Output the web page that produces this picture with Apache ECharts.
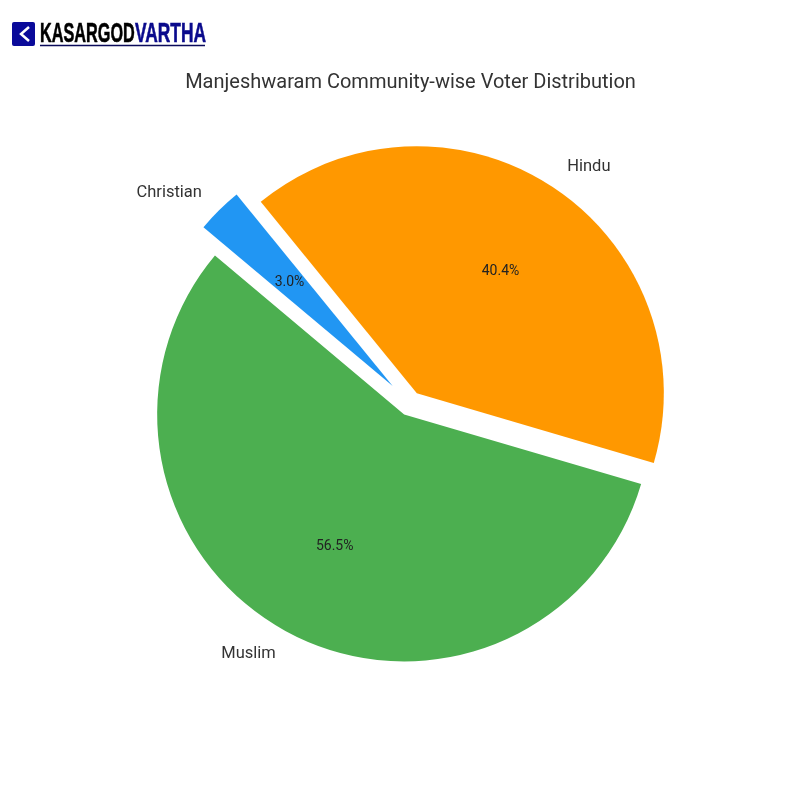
<!DOCTYPE html>
<html>
<head>
<meta charset="utf-8">
<style>html,body{margin:0;padding:0;background:#fff}#main{width:800px;height:800px}</style>
<script src="https://cdn.jsdelivr.net/npm/echarts@6/dist/echarts.min.js"></script>
</head>
<body>
<div id="main"></div>
<script>
var myChart = echarts.init(document.getElementById('main'));

var communities = ['Muslim', 'Hindu', 'Christian'];
var shares = [56.5, 40.4, 3.0];
var colors = ['#4CAF50', '#FF9800', '#2196F3'];
var titleText = 'Manjeshwaram Community-wise Voter Distribution';

var pieCenter = [410, 403.5];
var pieRadius = 247;
var fontName = 'Roboto';

// each pie only paints some slices, the rest stay transparent to keep the angles
function slices(shown, painted) {
  return communities.map(function (name, i) {
    var on = shown.indexOf(name) >= 0;
    return {
      name: name,
      value: shares[i],
      selected: true,
      itemStyle: { color: on && painted ? colors[i] : 'transparent' },
      label: { show: on }
    };
  });
}

function slicePie(shown, offset) {
  return {
    type: 'pie',
    center: pieCenter,
    radius: [0, pieRadius],
    startAngle: 140,
    clockwise: false,
    selectedMode: 'multiple',
    selectedOffset: offset,
    avoidLabelOverlap: false,
    animation: false,
    silent: true,
    emphasis: { disabled: true },
    label: {
      position: 'outside',
      formatter: '{b}',
      color: '#333',
      fontFamily: fontName,
      fontSize: 16.5,
      distanceToLabelLine: 0
    },
    labelLine: { show: false, length: pieRadius * 0.1, length2: 0 },
    data: slices(shown, true)
  };
}

// percent labels sit at 0.6 of the radius, the middle of this wider invisible pie
// pie labels ignore label.offset, rich padding does the small shift
function percentPie(shown, offset, padding) {
  return {
    type: 'pie',
    center: pieCenter,
    radius: [0, pieRadius * 1.2],
    startAngle: 140,
    clockwise: false,
    selectedMode: 'multiple',
    selectedOffset: offset,
    avoidLabelOverlap: false,
    animation: false,
    silent: true,
    emphasis: { disabled: true },
    label: {
      position: 'inside',
      formatter: function (p) { return '{t|' + p.value.toFixed(1) + '%}'; },
      rich: {
        t: { color: '#222', fontFamily: fontName, fontSize: 14, padding: padding }
      }
    },
    labelLine: { show: false },
    data: slices(shown, false)
  };
}

var option = {
  backgroundColor: '#fff',
  title: {
    text: titleText,
    left: 405.5,
    top: 68,
    textAlign: 'center',
    textStyle: { color: '#333', fontFamily: fontName, fontWeight: 'normal', fontSize: 20 }
  },
  graphic: [
    { type: 'rect', shape: { x: 12, y: 22, width: 23, height: 24, r: 2 }, style: { fill: '#0a0a9a' } },
    { type: 'polyline', shape: { points: [[29, 27], [21, 34], [29, 41]] }, style: { stroke: '#fff', fill: null, lineWidth: 2.5 } },
    { type: 'text', x: 40, y: 20, scaleX: 0.58, style: { text: 'KASARGOD', fill: '#000', stroke: '#000', lineWidth: 0.6, fontFamily: 'Liberation Sans', fontWeight: 'bold', fontSize: 28 } },
    { type: 'text', x: 135, y: 20, scaleX: 0.62, style: { text: 'VARTHA', fill: '#0a0a8c', stroke: '#0a0a8c', lineWidth: 0.6, fontFamily: 'Liberation Sans', fontWeight: 'bold', fontSize: 28 } },
    { type: 'line', shape: { x1: 40, y1: 45.5, x2: 205, y2: 45.5 }, style: { stroke: '#0a0a5a', lineWidth: 1.5 } }
  ],
  series: [
    slicePie(['Muslim', 'Hindu'], pieRadius * 0.05),
    slicePie(['Christian'], pieRadius * 0.1),
    percentPie(['Muslim'], pieRadius * 0.05, [0, 0, 3, 4]),
    percentPie(['Hindu'], pieRadius * 0.05, [8, 0, 0, 0]),
    percentPie(['Christian'], pieRadius * 0.1, [8, 0, 0, 6])
  ]
};

myChart.setOption(option);
</script>
</body>
</html>
